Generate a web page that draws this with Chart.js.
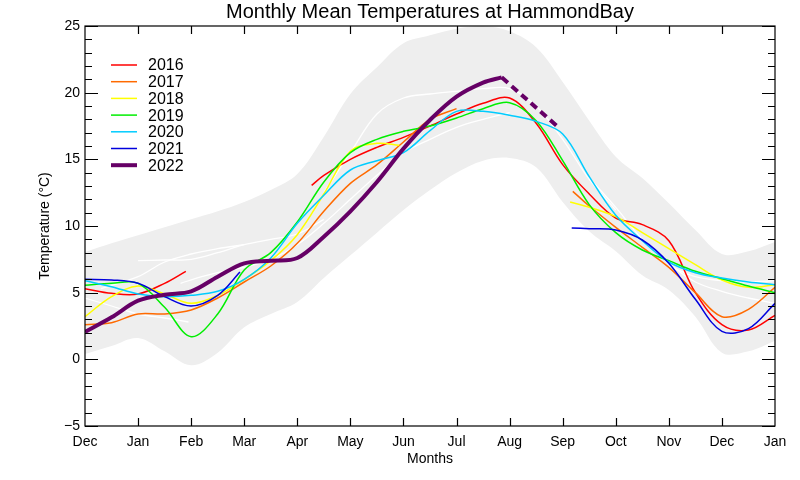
<!DOCTYPE html>
<html><head><meta charset="utf-8">
<script src="https://cdn.jsdelivr.net/npm/chart.js@4"></script>
<style>html,body{margin:0;padding:0;background:#fff}#wrap{width:800px;height:480px}</style>
</head><body><div id="wrap"><canvas id="c" width="800" height="480"></canvas></div>
<script>
const monthLabels = ['Dec','Jan','Feb','Mar','Apr','May','Jun','Jul','Aug','Sep','Oct','Nov','Dec','Jan'];
const yTicks = [-5,0,5,10,15,20,25];
const grid = [0,0.5,1,1.5,2,2.5,3,3.5,4,4.5,5,5.5,6,6.5,7,7.5,8,8.5,9,9.5,10,10.5,11,11.5,12,12.5,13];

const bandUpper = [8.05,8.7,9.3,9.9,10.5,11.1,11.8,12.7,13.9,16.7,19.9,21.9,23.7,24.3,24.8,25.0,24.6,23.4,20.8,17.9,15.2,13.6,11.7,9.7,7.9,8.1,8.8];
const bandLower = [0.4,1.0,1.6,0.6,-0.45,0.5,2.4,3.4,4.3,6.1,7.8,9.5,11.2,12.7,14.0,14.9,15.1,14.4,11.8,9.6,8.1,6.3,5.2,3.2,0.5,0.6,1.4];

const x2016a = [0,0.5,1,1.5,1.9];
const y2016a = [5.3,4.95,4.9,5.7,6.6];
const x2016b = [4.27,4.5,5,5.5,6,6.5,7,7.5,8,8.5,9,9.5,10,10.5,11,11.5,12,12.5,13];
const y2016b = [13.05,13.8,15.0,15.9,16.65,17.5,18.4,19.2,19.6,17.7,14.6,12.4,10.6,10.1,8.9,5.0,2.6,2.2,3.3];

const x2017a = [0,0.5,1,1.5,2,2.5,3,3.5,4,4.5,5,5.5,6,6.5,7];
const y2017a = [2.6,2.75,3.4,3.4,3.7,4.6,5.8,7.0,8.7,11.1,13.2,14.6,16.3,18.0,18.8];
const x2017b = [9.19,9.5,10,10.5,11,11.5,12,12.5,13];
const y2017b = [12.6,11.5,9.9,8.4,6.9,5.0,3.2,3.75,5.4];

const x2018a = [0,0.5,1,1.5,2,2.5,3,3.5,4,4.5,5,5.5,5.92];
const y2018a = [3.2,4.7,5.5,4.9,4.2,4.8,6.0,7.4,9.35,12.4,15.6,16.2,16.05];
const x2018b = [9.14,9.5,10,10.5,11,11.5,12,12.5,13];
const y2018b = [11.8,11.4,10.7,9.5,8.3,7.1,5.95,5.4,5.6];

const y2019 = [5.55,5.7,5.7,3.9,1.7,3.4,6.7,8.0,10.3,13.3,15.5,16.5,17.1,17.5,18.1,18.8,19.25,17.9,14.9,11.6,9.5,8.2,7.4,6.6,6.05,5.5,5.0];
const y2020 = [5.9,5.45,4.9,4.7,4.8,5.1,6.0,7.6,10.2,12.3,14.2,14.9,15.5,17.15,18.6,18.6,18.3,17.85,16.9,13.7,10.8,8.9,7.3,6.5,6.1,5.8,5.6];

const x2021a = [0,0.5,1,1.5,2,2.5,2.92];
const y2021a = [6.0,5.95,5.7,4.7,4.0,4.8,6.55];
const x2021b = [9.17,9.5,10,10.5,11,11.5,12,12.5,13];
const y2021b = [9.85,9.8,9.7,8.95,7.2,4.5,2.1,2.3,4.2];

const x2022 = [0,0.5,1,1.5,2,2.5,3,3.5,4,4.5,5,5.5,6,6.5,7,7.5,7.85];
const y2022 = [2.05,3.15,4.4,4.85,5.1,6.2,7.2,7.4,7.6,9.2,11.1,13.3,15.8,17.95,19.7,20.75,21.15];
const x2022fc = [7.85,8.92];
const y2022fc = [21.15,17.4];

const otherYearsX = [
  [4.5,5,5.5,6,6.5,7,7.5,8,8.5,9,9.5,10],
  [1,1.5,2,2.5,3,3.5,4,4.5],
  [0.3,1,1.5,2,2.5,3],
  [0,0.5,1,1.5,1.95],
  [1.8,2.2,2.6,3,3.5,4,4.5,5,5.5,6,6.5,7,7.5,8],
  [9.5,10,10.5,11,11.5,12,12.5,13],
  [11,11.5,12,12.5,13]
];
const otherYearsY = [
  [12.5,15.5,18.4,19.6,19.9,20.1,20.3,20.3,19.0,16.5,13.5,11.2],
  [7.4,7.45,7.5,8.0,8.6,9.0,9.4,10.5],
  [5.3,6.2,7.3,7.9,8.3,8.6],
  [4.6,4.0,3.4,3.1,2.8],
  [5.7,6.2,6.6,6.9,7.5,8.6,10.2,12.0,13.8,15.5,16.5,17.4,18.0,18.5],
  [13.6,11.4,9.0,7.2,5.8,5.1,4.6,4.2],
  [7.0,6.2,5.9,5.8,5.9]
];

const legendYears = ['2016','2017','2018','2019','2020','2021','2022'];
const colors = {'2016':'#ff0000','2017':'#ff6a00','2018':'#ffff00','2019':'#00ee00','2020':'#00ccff','2021':'#0000dd','2022':'#660066'};

function pts(xa, ya){ return xa.map((x,i)=>({x:x, y:ya[i]})); }
function series(label, xa, ya, color, width, order, extra){
  return Object.assign({label, data: pts(xa, ya), borderColor: color, backgroundColor: color,
    borderWidth: width, pointRadius: 0, fill: false, tension: 0.35, order}, extra||{});
}

const datasets = [];
datasets.push({label:'bandUpper', data: pts(grid, bandUpper), borderWidth:0, pointRadius:0, order: 100,
  backgroundColor:'#eeeeee', borderColor:'rgba(0,0,0,0)', fill:'+1', tension:0.35});
datasets.push({label:'bandLower', data: pts(grid, bandLower), borderWidth:0, pointRadius:0, order: 99,
  borderColor:'rgba(0,0,0,0)', fill:false, tension:0.35});
otherYearsX.forEach((xa,i)=> datasets.push(series('other'+i, xa, otherYearsY[i], '#ffffff', 1.3, 50)));
datasets.push(series('2016', x2016a, y2016a, colors['2016'], 1.5, 7));
datasets.push(series('2016b', x2016b, y2016b, colors['2016'], 1.5, 7));
datasets.push(series('2017', x2017a, y2017a, colors['2017'], 1.5, 6));
datasets.push(series('2017b', x2017b, y2017b, colors['2017'], 1.5, 6));
datasets.push(series('2018', x2018a, y2018a, colors['2018'], 1.5, 5));
datasets.push(series('2018b', x2018b, y2018b, colors['2018'], 1.5, 5));
datasets.push(series('2019', grid, y2019, colors['2019'], 1.5, 4));
datasets.push(series('2020', grid, y2020, colors['2020'], 1.5, 3));
datasets.push(series('2021', x2021a, y2021a, colors['2021'], 1.5, 2));
datasets.push(series('2021b', x2021b, y2021b, colors['2021'], 1.5, 2));
datasets.push(series('2022', x2022, y2022, colors['2022'], 4, 0));
datasets.push(series('2022fc', x2022fc, y2022fc, colors['2022'], 4, 0, {borderDash:[8,5], borderCapStyle:'butt'}));

const FONT = '"Liberation Sans", Arial, sans-serif';

const decor = {
  id: 'decor',
  afterDatasetsDraw(chart){
    const {ctx, chartArea:a, scales:{x, y}} = chart;
    ctx.save();
    ctx.strokeStyle = '#000'; ctx.lineWidth = 1.2;
    ctx.strokeRect(a.left, a.top, a.right - a.left, a.bottom - a.top);
    ctx.beginPath();
    for (let m = 1; m < monthLabels.length - 1; m++){
      const px = Math.round(x.getPixelForValue(m)) + 0.5;
      ctx.moveTo(px, a.bottom); ctx.lineTo(px, a.bottom - 8);
      ctx.moveTo(px, a.top); ctx.lineTo(px, a.top + 8);
    }
    for (let v = -5; v <= 25; v++){
      const py = Math.round(y.getPixelForValue(v)) + 0.5;
      const len = (v % 5 === 0) ? 13 : 7;
      ctx.moveTo(a.left, py); ctx.lineTo(a.left + len, py);
      ctx.moveTo(a.right, py); ctx.lineTo(a.right - len, py);
    }
    ctx.stroke();
    // legend
    ctx.textAlign = 'left'; ctx.textBaseline = 'middle';
    ctx.font = '16px ' + FONT; ctx.fillStyle = '#000';
    legendYears.forEach((yr, i) => {
      const ly = 65 + i * 16.7;
      ctx.beginPath(); ctx.strokeStyle = colors[yr]; ctx.lineWidth = yr === '2022' ? 4 : 1.5;
      ctx.moveTo(111, ly); ctx.lineTo(137, ly); ctx.stroke();
      ctx.fillText(yr, 148, ly + 1);
    });
    // titles
    ctx.textAlign = 'center';
    ctx.font = '20px ' + FONT;
    ctx.fillText('Monthly Mean Temperatures at HammondBay', (a.left + a.right) / 2, 12);
    ctx.font = '14px ' + FONT;
    ctx.fillText('Months', (a.left + a.right) / 2, 459);
    ctx.translate(45, (a.top + a.bottom) / 2);
    ctx.rotate(-Math.PI / 2);
    ctx.fillText('Temperature (\u00B0C)', 0, 0);
    ctx.restore();
  }
};

new Chart(document.getElementById('c'), {
  type: 'line',
  data: { datasets },
  options: {
    responsive: false, animation: false,
    layout: { padding: { top: 26, right: 25, left: 0, bottom: 0 } },
    plugins: { legend: { display: false }, title: { display: false }, tooltip: { enabled: false }, filler: { propagate: false } },
    scales: {
      x: { type: 'linear', min: 0, max: 13,
        grid: { display: false, drawTicks: false }, border: { display: false },
        ticks: { stepSize: 1, autoSkip: false, maxRotation: 0, padding: 8, color: '#000',
          font: { size: 14, family: FONT }, callback: v => monthLabels[v] },
        afterFit: s => { s.height = 54; } },
      y: { min: -5, max: 25,
        grid: { display: false, drawTicks: false }, border: { display: false },
        ticks: { stepSize: 5, padding: 5, color: '#000', font: { size: 14, family: FONT },
          callback: v => yTicks.includes(v) ? String(v).replace('-', '\u2212') : '' },
        afterFit: s => { s.width = 85; } }
    }
  },
  plugins: [decor]
});
</script>
</body></html>
